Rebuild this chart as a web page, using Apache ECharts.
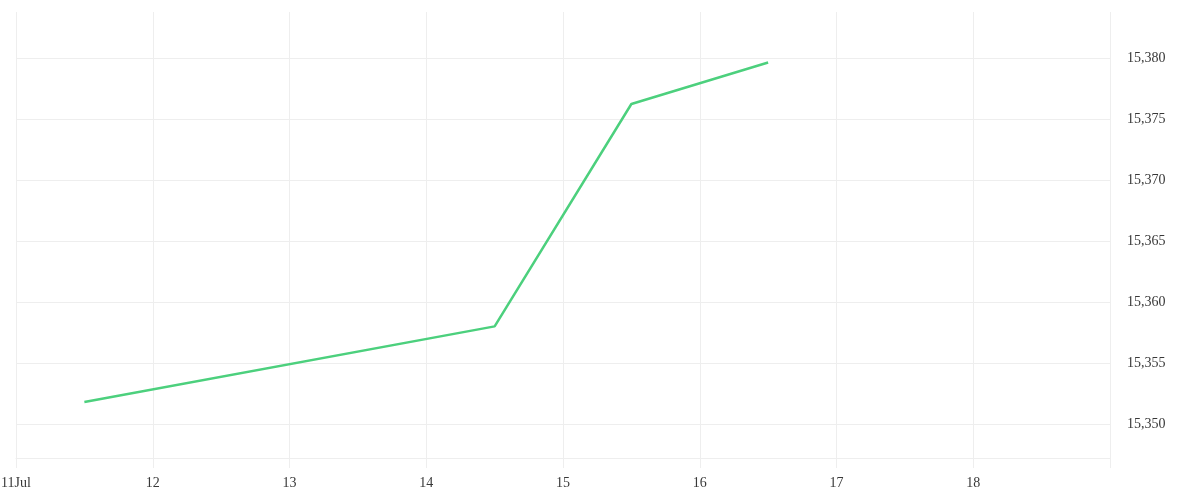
<!DOCTYPE html>
<html>
<head>
    <meta charset="utf-8">
    <title>ECharts</title>
    <script src="https://cdn.jsdelivr.net/npm/echarts@6/dist/echarts.min.js"></script>
</head>
<body style="margin: 0">
<div id="main" style="width: 1200px; height: 500px"></div>
<script type="text/javascript">
    // noon readings, 11-19 Jul
    var DAY = 86400000;
    var dates = ['2023-07-11T12:00:00Z', '2023-07-14T12:00:00Z', '2023-07-15T12:00:00Z', '2023-07-16T12:00:00Z'];
    var values = [15351.8, 15358.0, 15376.25, 15379.65];
    var xStart = Date.UTC(2023, 6, 11);
    var xEnd = Date.UTC(2023, 6, 19);
    var yMin = 15347.2;
    var yMax = 15383.8;

    var gridColor = '#eeeeee';
    var font = '"Liberation Serif", serif';

    var seriesData = dates.map(function (d, i) {
        return [Date.parse(d), values[i]];
    });

    var myChart = echarts.init(document.getElementById('main'));

    myChart.setOption({
        backgroundColor: '#fff',
        animation: false,
        grid: {
            left: 16,
            right: 90,
            top: 12,
            bottom: 42,
            containLabel: false,
            outerBoundsMode: 'none'
        },
        xAxis: {
            type: 'value',
            min: xStart,
            max: xEnd,
            interval: DAY,
            axisLine: { show: true, lineStyle: { color: gridColor, width: 1 } },
            axisTick: { show: true, inside: false, length: 10, lineStyle: { color: gridColor, width: 1 } },
            splitLine: { show: true, lineStyle: { color: gridColor } },
            axisLabel: {
                margin: 18,
                color: '#383838',
                fontFamily: font,
                fontSize: 14,
                formatter: function (v) {
                    if (v >= xEnd) return '';
                    var d = new Date(v);
                    return v === xStart ? d.getUTCDate() + 'Jul' : String(d.getUTCDate());
                }
            }
        },
        yAxis: {
            type: 'value',
            position: 'right',
            min: yMin,
            max: yMax,
            splitNumber: 7,
            axisLine: { show: false },
            axisTick: { show: false },
            splitLine: { show: true, showMaxLine: false, lineStyle: { color: gridColor } },
            axisLabel: {
                margin: 17,
                color: '#383838',
                fontFamily: font,
                fontSize: 14,
                showMinLabel: false,
                showMaxLabel: false,
                formatter: function (v) {
                    return v.toLocaleString('en-US');
                }
            }
        },
        series: [{
            type: 'line',
            data: seriesData,
            showSymbol: false,
            lineStyle: { color: '#4cd07d', width: 2.5 }
        }]
    });
</script>
</body>
</html>
